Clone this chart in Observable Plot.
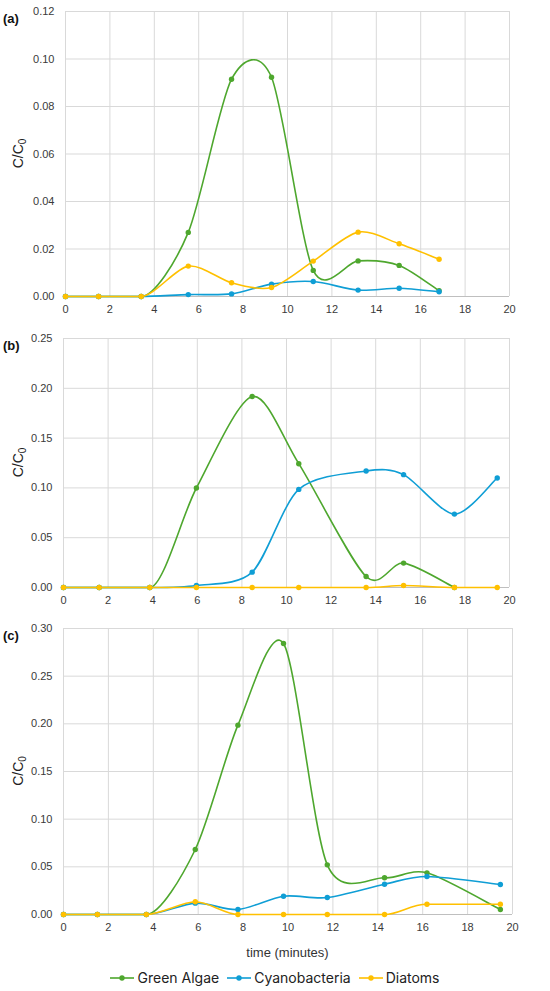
<!DOCTYPE html>
<html><head><meta charset="utf-8">
<script src="https://cdn.jsdelivr.net/npm/d3@7"></script>
<script src="https://cdn.jsdelivr.net/npm/@observablehq/plot@0.6"></script>
<style>
body{margin:0;background:#fff;width:550px;overflow:hidden;}
#chart{width:550px;}
.legend{height:27px;display:flex;justify-content:center;align-items:center;font-family:Inter,"Liberation Sans",sans-serif;font-size:14px;color:#222;}
.legend .item{display:flex;align-items:center;margin:0 4px;}
.legend svg{margin-right:3px;}
</style></head><body><div id="chart"></div>
<script>
const seriesNames = ["Green Algae", "Cyanobacteria", "Diatoms"];
const seriesColors = ["#4ea72e", "#0f9ed5", "#ffc000"];
const xTicks = [0, 2, 4, 6, 8, 10, 12, 14, 16, 18, 20];

// Panel (a)
const timeA = [0, 1.49, 3.41, 5.53, 7.48, 9.28, 11.16, 13.18, 15.03, 16.83];
const greenA = [0, 0, 0, 0.027, 0.0915, 0.0923, 0.011, 0.0150, 0.0131, 0.0024];
const cyanA = [0, 0, 0, 0.0008, 0.0011, 0.0052, 0.0063, 0.0027, 0.0035, 0.0020];
const diatomA = [0, 0, 0, 0.0128, 0.0058, 0.0038, 0.0149, 0.0271, 0.0222, 0.0157];
const yTicksA = [0, 0.02, 0.04, 0.06, 0.08, 0.10, 0.12];

// Panel (b)
const timeB = [0, 1.6, 3.87, 5.96, 8.46, 10.55, 13.57, 15.25, 17.53, 19.45];
const greenB = [0, 0, 0, 0.0999, 0.1917, 0.1243, 0.011, 0.0245, 0, null];
const cyanB = [0, 0, 0, 0.002, 0.0154, 0.0985, 0.117, 0.1133, 0.0737, 0.110];
const diatomB = [0, 0, 0, 0, 0, 0, 0, 0.002, 0, 0];
const yTicksB = [0, 0.05, 0.10, 0.15, 0.20, 0.25];

// Panel (c)
const timeC = [0, 1.51, 3.69, 5.87, 7.77, 9.80, 11.75, 14.30, 16.19, 19.46];
const greenC = [0, 0, 0, 0.0682, 0.1986, 0.2843, 0.0521, 0.0385, 0.0437, 0.0052];
const cyanC = [0, 0, 0, 0.0119, 0.0052, 0.0192, 0.0178, 0.0318, 0.0399, 0.0315];
const diatomC = [0, 0, 0, 0.0133, 0, 0, 0, 0, 0.0108, 0.0108];
const yTicksC = [0, 0.05, 0.10, 0.15, 0.20, 0.25, 0.30];

const panels = [
  {label: "(a)", time: timeA, values: [greenA, cyanA, diatomA], yTicks: yTicksA,
   height: 320, mt: 11, mb: 24, ml: 65, mr: 41, xLabel: null},
  {label: "(b)", time: timeB, values: [greenB, cyanB, diatomB], yTicks: yTicksB,
   height: 291, mt: 18, mb: 24, ml: 63, mr: 41, xLabel: null},
  {label: "(c)", time: timeC, values: [greenC, cyanC, diatomC], yTicks: yTicksC,
   height: 353, mt: 17, mb: 50, ml: 63, mr: 38, xLabel: "time (minutes)"}
];

// Smoothed-line curve (spreadsheet-style): cardinal tangents, flat next to flat runs
function smoothCurve(context) {
  let pts = [];
  const s = 0.85;
  return {
    areaStart() {}, areaEnd() {},
    lineStart() { pts = []; },
    point(x, y) { pts.push([+x, +y]); },
    lineEnd() {
      const n = pts.length;
      if (!n) return;
      context.moveTo(pts[0][0], pts[0][1]);
      if (n === 1) return;
      const T = pts.map((p, i) => {
        const a = pts[Math.max(0, i - 1)], b = pts[Math.min(n - 1, i + 1)];
        let tx = (b[0] - a[0]) / 6 * s, ty = (b[1] - a[1]) / 6 * s;
        const flatPrev = i > 0 && Math.abs(p[1] - pts[i - 1][1]) < 0.5;
        const flatNext = i < n - 1 && Math.abs(p[1] - pts[i + 1][1]) < 0.5;
        if (flatPrev || flatNext) ty = 0;
        return [tx, ty];
      });
      for (let i = 0; i < n - 1; i++) {
        const p = pts[i], q = pts[i + 1];
        context.bezierCurveTo(p[0] + T[i][0], p[1] + T[i][1],
          q[0] - T[i + 1][0], q[1] - T[i + 1][1], q[0], q[1]);
      }
    }
  };
}

const container = document.getElementById("chart");
const fontFam = "'Liberation Sans', Arial, sans-serif";

for (const p of panels) {
  const seriesRows = seriesNames.map((name, si) =>
    p.time.map((t, i) => ({time: t, value: p.values[si][i], series: name}))
          .filter(d => d.value != null));
  const yMax = p.yTicks[p.yTicks.length - 1];
  const marks = [
    Plot.gridX(xTicks, {stroke: "#d9d9d9", strokeOpacity: 1}),
    Plot.gridY(p.yTicks, {stroke: "#d9d9d9", strokeOpacity: 1}),
    Plot.ruleY([0], {stroke: "#bfbfbf"}),
    Plot.axisX(xTicks, {tickSize: 0, tickPadding: 9, label: null, tickFormat: d => String(d)}),
    Plot.axisY(p.yTicks, {tickSize: 0, tickPadding: 11, label: null, tickFormat: d3.format(".2f")})
  ];
  seriesRows.forEach((rows, si) => {
    marks.push(Plot.line(rows, {x: "time", y: "value", curve: smoothCurve,
      stroke: seriesColors[si], strokeWidth: 1.6}));
    marks.push(Plot.dot(rows, {x: "time", y: "value", r: 2.7, fill: seriesColors[si]}));
  });
  const chart = Plot.plot({
    width: 550, height: p.height,
    marginTop: p.mt, marginBottom: p.mb, marginLeft: p.ml, marginRight: p.mr,
    x: {domain: [0, 20]},
    y: {domain: [0, yMax]},
    style: {fontFamily: fontFam, fontSize: "11px", color: "#3a3a3a", background: "#fff"},
    marks
  });
  const svg = d3.select(chart);
  const plotBottom = p.height - p.mb;
  // panel label
  svg.append("text").attr("x", 3).attr("y", p.mt + 12)
    .attr("text-anchor", "start")
    .attr("font-weight", "bold").attr("font-size", 13).attr("fill", "#111")
    .attr("font-family", fontFam).text(p.label);
  // y label with subscript
  const yl = svg.append("text")
    .attr("transform", `translate(23,${(p.mt + plotBottom) / 2}) rotate(-90)`)
    .attr("text-anchor", "middle").attr("font-size", 14).attr("fill", "#222")
    .attr("font-family", fontFam);
  yl.append("tspan").text("C/C");
  yl.append("tspan").attr("font-size", 10).attr("dy", 3).text("0");
  if (p.xLabel) {
    svg.append("text").attr("x", (p.ml + 550 - p.mr) / 2).attr("y", plotBottom + 43)
      .attr("text-anchor", "middle").attr("font-size", 13).attr("fill", "#333")
      .attr("font-family", fontFam).text(p.xLabel);
  }
  container.appendChild(chart);
}

// legend
const legend = document.createElement("div");
legend.className = "legend";
seriesNames.forEach((name, si) => {
  const item = document.createElement("div");
  item.className = "item";
  item.innerHTML = `<svg width="24" height="10"><line x1="0" x2="24" y1="5" y2="5" stroke="${seriesColors[si]}" stroke-width="1.6"/><circle cx="12" cy="5" r="2.7" fill="${seriesColors[si]}"/></svg><span>${name}</span>`;
  legend.appendChild(item);
});
container.appendChild(legend);
</script>
</body></html>
